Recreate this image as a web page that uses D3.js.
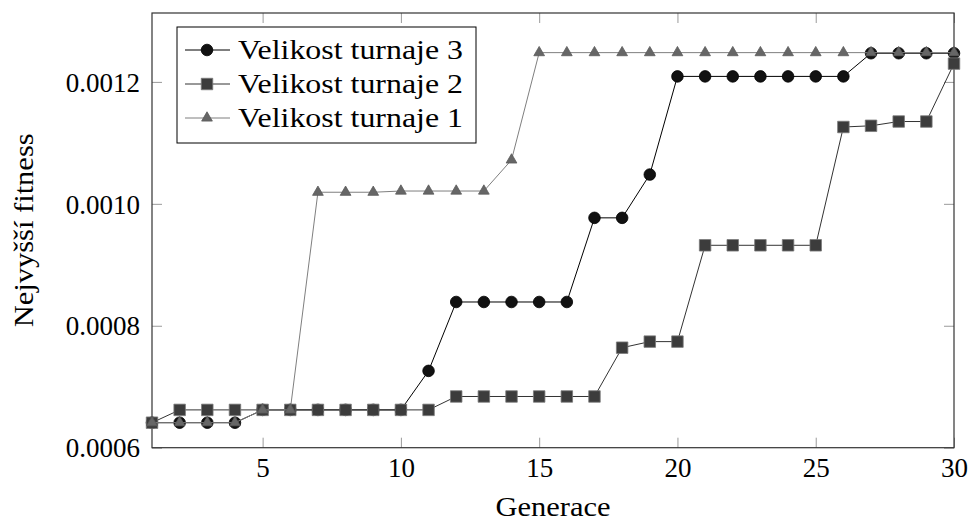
<!DOCTYPE html>
<html>
<head>
<meta charset="utf-8">
<script src="https://cdn.jsdelivr.net/npm/d3@7"></script>
<style>
  body { margin: 0; background: #fff; }
</style>
</head>
<body>
<svg id="chart"></svg>
<script>
// generace 1..30
const generations = d3.range(1, 31);

// nejvyssi fitness podle velikosti turnaje
const tour3 = [0.000641, 0.000641, 0.000641, 0.000641, 0.000662, 0.000662, 0.000662, 0.000662, 0.000662, 0.000662,
    0.000726, 0.000839, 0.000839, 0.000839, 0.000839, 0.000839, 0.000977, 0.000977, 0.001048, 0.001209,
    0.001209, 0.001209, 0.001209, 0.001209, 0.001209, 0.001209, 0.001247, 0.001247, 0.001247, 0.001247];
const tour2 = [0.000641, 0.000662, 0.000662, 0.000662, 0.000662, 0.000662, 0.000662, 0.000662, 0.000662, 0.000662,
    0.000662, 0.000684, 0.000684, 0.000684, 0.000684, 0.000684, 0.000684, 0.000764, 0.000774, 0.000774,
    0.000932, 0.000932, 0.000932, 0.000932, 0.000932, 0.001126, 0.001128, 0.001135, 0.001135, 0.001230];
const tour1 = [0.000641, 0.000641, 0.000641, 0.000641, 0.000662, 0.000662, 0.001019, 0.001019, 0.001019, 0.001021,
    0.001021, 0.001021, 0.001021, 0.001072, 0.001248, 0.001248, 0.001248, 0.001248, 0.001248, 0.001248,
    0.001248, 0.001248, 0.001248, 0.001248, 0.001248, 0.001248, 0.001248, 0.001248, 0.001248, 0.001248];

const seriesNames = ['Velikost turnaje 3', 'Velikost turnaje 2', 'Velikost turnaje 1'];
const xTicks = [5, 10, 15, 20, 25, 30];
const yTicks = [0.0006, 0.0008, 0.0010, 0.0012];

const width = 971;
const height = 521;
const plotLeft = 152, plotRight = 954, plotTop = 13, plotBottom = 447.7;
const serif = 'Liberation Serif';

const svg = d3.select('#chart').attr('width', width).attr('height', height);

const x = d3.scaleLinear().domain([1, 30]).range([plotLeft, plotRight]);
const y = d3.scaleLinear().domain([0.0006, 0.001313]).range([plotBottom, plotTop]);

const tickColor = '#9a9a9a';

// ticks dovnitr na vsech ctyrech stranach
function styleTicks(g) {
    g.select('.domain').remove();
    g.selectAll('.tick line').attr('stroke', tickColor).attr('stroke-width', 1);
}

svg.append('g')
    .attr('transform', 'translate(0,' + plotBottom + ')')
    .call(d3.axisBottom(x).tickValues(xTicks).tickSize(-10).tickPadding(0).tickFormat(d3.format('d')))
    .call(styleTicks)
    .call(g => g.selectAll('.tick text')
        .attr('y', 29.5).attr('dy', null));

svg.append('g')
    .attr('transform', 'translate(0,' + plotTop + ')')
    .call(d3.axisTop(x).tickValues(xTicks).tickSize(-10).tickFormat(''))
    .call(styleTicks);

svg.append('g')
    .attr('transform', 'translate(' + plotLeft + ',0)')
    .call(d3.axisLeft(y).tickValues(yTicks).tickSize(-10).tickFormat(d3.format('.4f')))
    .call(styleTicks)
    .call(g => g.selectAll('.tick text')
        .attr('x', -12).attr('dy', '0.34em'));

svg.append('g')
    .attr('transform', 'translate(' + plotRight + ',0)')
    .call(d3.axisRight(y).tickValues(yTicks).tickSize(-10).tickFormat(''))
    .call(styleTicks);

svg.selectAll('.tick text')
    .attr('fill', '#000')
    .style('font-family', serif)
    .style('font-size', '27px');

// ramecek
svg.append('rect')
    .attr('x', plotLeft).attr('y', plotTop)
    .attr('width', plotRight - plotLeft).attr('height', plotBottom - plotTop)
    .attr('fill', 'none').attr('stroke', '#333').attr('stroke-width', 1.2);

// popisky os
svg.append('text')
    .attr('x', (plotLeft + plotRight) / 2).attr('y', 516)
    .attr('text-anchor', 'middle')
    .attr('textLength', 115).attr('lengthAdjust', 'spacingAndGlyphs')
    .style('font-family', serif)
    .style('font-size', '28px')
    .text('Generace');

svg.append('text')
    .attr('transform', 'translate(33,' + (plotTop + plotBottom) / 2 + ') rotate(-90)')
    .attr('text-anchor', 'middle')
    .attr('textLength', 194).attr('lengthAdjust', 'spacingAndGlyphs')
    .style('font-family', serif)
    .style('font-size', '28px')
    .text('Nejvyšší fitness');

const styles = [
    { line: '#000', fill: '#111', stroke: '#000', mark: 'circle' },
    { line: '#333', fill: '#3c3c3c', stroke: '#7a7a7a', mark: 'square' },
    { line: '#7f7f7f', fill: '#666', stroke: '#5a5a5a', mark: 'triangle' }
];

const symbols = {
    circle: d3.symbol().type(d3.symbolCircle).size(Math.PI * 5.8 * 5.8),
    square: d3.symbol().type(d3.symbolSquare).size(11.5 * 11.5),
    triangle: d3.symbol().type(d3.symbolTriangle).size(50)
};

const allSeries = [tour3, tour2, tour1];

const line = d3.line()
    .x((d, i) => x(generations[i]))
    .y(d => y(d));

allSeries.forEach(function (values, s) {
    const st = styles[s];
    const g = svg.append('g');
    g.append('path')
        .attr('d', line(values))
        .attr('fill', 'none')
        .attr('stroke', st.line)
        .attr('stroke-width', 1);
    g.selectAll('path.mark')
        .data(values)
        .enter()
        .append('path')
        .attr('class', 'mark')
        .attr('transform', (d, i) => 'translate(' + x(generations[i]) + ',' + y(d) + ')')
        .attr('d', symbols[st.mark]())
        .attr('fill', st.fill)
        .attr('stroke', st.stroke)
        .attr('stroke-width', 0.8);
});

// legenda
const legend = svg.append('g');
legend.append('rect')
    .attr('x', 177).attr('y', 27)
    .attr('width', 299).attr('height', 116)
    .attr('fill', '#fff').attr('stroke', '#000').attr('stroke-width', 1);

const rowY = [50, 84, 118];
seriesNames.forEach(function (name, s) {
    const st = styles[s];
    legend.append('line')
        .attr('x1', 185).attr('x2', 230)
        .attr('y1', rowY[s]).attr('y2', rowY[s])
        .attr('stroke', st.line).attr('stroke-width', 1);
    legend.append('path')
        .attr('transform', 'translate(207,' + rowY[s] + ')')
        .attr('d', symbols[st.mark]())
        .attr('fill', st.fill)
        .attr('stroke', st.stroke)
        .attr('stroke-width', 0.8);
    legend.append('text')
        .attr('x', 238).attr('y', rowY[s] + 9)
        .attr('textLength', 225).attr('lengthAdjust', 'spacingAndGlyphs')
        .style('font-family', serif)
        .style('font-size', '28px')
        .text(name);
});
</script>
</body>
</html>
